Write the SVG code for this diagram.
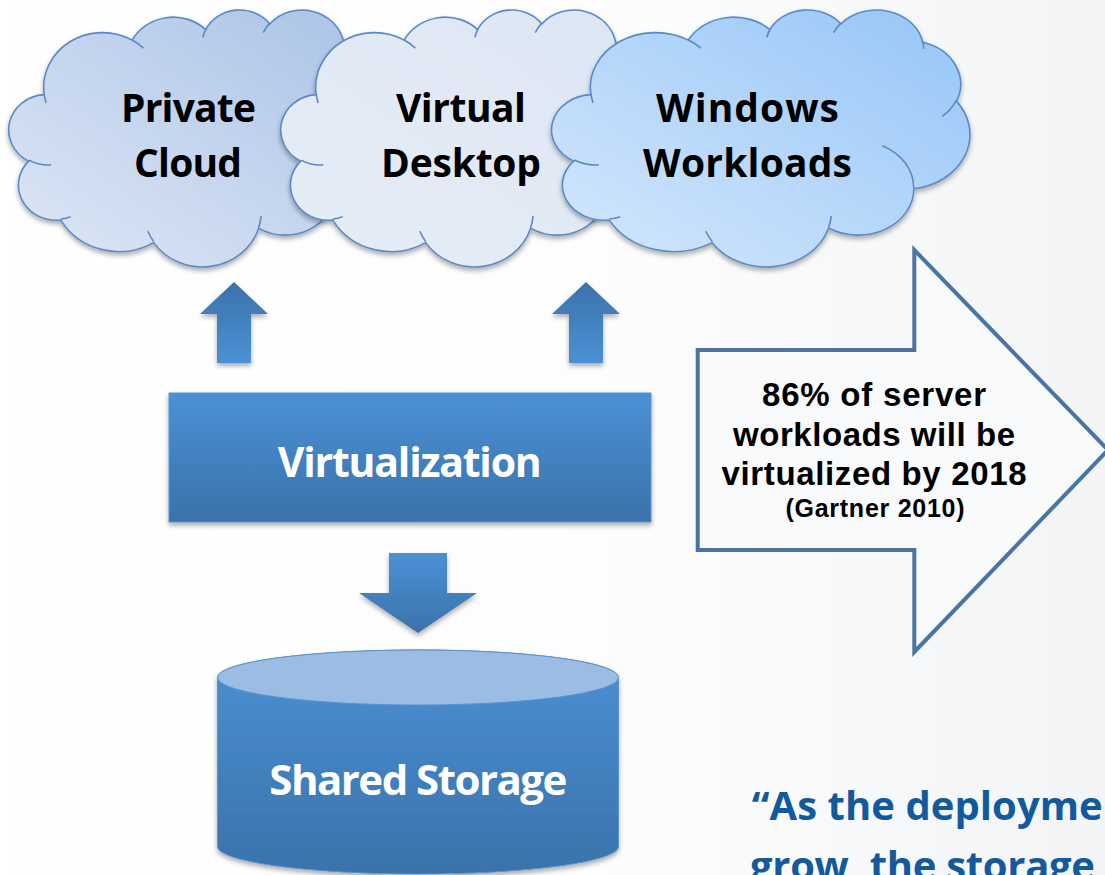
<svg xmlns="http://www.w3.org/2000/svg" xmlns:xlink="http://www.w3.org/1999/xlink" width="1105" height="875" viewBox="0 0 1105 875">
<defs>
<linearGradient id="bg" x1="0" y1="0" x2="1" y2="0">
<stop offset="0" stop-color="#ffffff"/><stop offset="0.55" stop-color="#fdfdfd"/><stop offset="1" stop-color="#f2f4f6"/>
</linearGradient>
<linearGradient id="c1" x1="0" y1="1" x2="1" y2="0">
<stop offset="0" stop-color="#dfe8f6"/><stop offset="1" stop-color="#a9c2e6"/>
</linearGradient>
<linearGradient id="c2" x1="0" y1="1" x2="1" y2="0">
<stop offset="0" stop-color="#e6edf7"/><stop offset="1" stop-color="#dce6f3"/>
</linearGradient>
<linearGradient id="c3" x1="0" y1="1" x2="1" y2="0">
<stop offset="0" stop-color="#d6e8fd"/><stop offset="1" stop-color="#95c5f7"/>
</linearGradient>
<linearGradient id="gDown" x1="0" y1="0" x2="0" y2="1">
<stop offset="0" stop-color="#4b91d5"/><stop offset="1" stop-color="#3a72aa"/>
</linearGradient>
<linearGradient id="gUp" x1="0" y1="0" x2="0" y2="1">
<stop offset="0" stop-color="#3a72aa"/><stop offset="1" stop-color="#4b91d5"/>
</linearGradient>
<filter id="sh" x="-10%" y="-10%" width="120%" height="130%">
<feDropShadow dx="0" dy="3" stdDeviation="2.5" flood-color="#000" flood-opacity="0.32"/>
</filter>
<path id="cloudOuter" vector-effect="non-scaling-stroke" d="M3900 14370 A6753 9190 0 0 1 14004 5200 A5333 7267 0 0 1 22453 3427 A4365 5945 0 0 1 29830 2478 A4857 6595 0 0 1 38315 5574 A5333 7273 0 0 1 41815 15458 A6775 9220 0 0 1 37401 30201 A5785 7867 0 0 1 28552 36811 A6752 9215 0 0 1 16476 39261 A7720 10543 0 0 1 5805 35467 A4360 5918 0 0 1 2110 25550 A4345 5945 0 0 1 3900 14370 Z"/>
<path id="cloudInner" vector-effect="non-scaling-stroke" fill="none" d="M4693 26177 A4345 5945 0 0 1 2158 25378 M6928 34899 A4360 5918 0 0 1 5822 35279 M16478 39090 A6752 9215 0 0 1 15811 37351 M28827 34751 A6752 9215 0 0 1 28561 36659 M34129 22954 A5785 7867 0 0 1 37377 30087 M41798 15354 A5333 7273 0 0 1 40351 18029 M38324 5426 A4857 6595 0 0 1 38400 6690 M29078 3952 A4857 6595 0 0 1 29820 2340 M22141 4720 A4365 5945 0 0 1 22501 3330 M14000 5192 A6753 9190 0 0 1 15303 6544 M4127 15789 A6753 9190 0 0 1 3900 14370"/>
</defs>
<style>
.cl{stroke:#5a8ac6;stroke-width:1.6}
.ci{stroke:#5a8ac6;stroke-width:1.6;fill:none}
.ct{font-family:"Open Sans","Noto Sans","DejaVu Sans",sans-serif;font-weight:700;font-size:39px;fill:#000;text-anchor:middle}
.wt{font-family:"Open Sans","Noto Sans","DejaVu Sans",sans-serif;font-weight:700;fill:#fff;text-anchor:middle}
.at{font-family:"Liberation Sans",Arial,sans-serif;font-weight:700;fill:#000;text-anchor:middle}
.qt{font-family:"Open Sans","Noto Sans","DejaVu Sans",sans-serif;font-weight:700;font-size:40px;fill:#135a9c}
.blk{stroke:#5b93cf;stroke-width:1}
</style>
<rect x="0" y="0" width="1105" height="875" fill="url(#bg)"/>

<g id="cloud-private">
<g filter="url(#sh)">
<use xlink:href="#cloudOuter" class="cl" fill="url(#c1)" transform="translate(10.3 9.19) scale(0.0087 0.005946)"/>
</g>
<use xlink:href="#cloudInner" class="ci" transform="translate(10.3 9.19) scale(0.0087 0.005946)"/>
<text class="ct" x="188.5" y="121.7" textLength="135">Private</text>
<text class="ct" x="188" y="176.7" textLength="108">Cloud</text>
</g>

<g id="cloud-virtual-desktop">
<g filter="url(#sh)">
<use xlink:href="#cloudOuter" class="cl" fill="url(#c2)" transform="translate(282.3 9.19) scale(0.0087 0.005946)"/>
</g>
<use xlink:href="#cloudInner" class="ci" transform="translate(282.3 9.19) scale(0.0087 0.005946)"/>
<text class="ct" x="461" y="121.7" textLength="130">Virtual</text>
<text class="ct" x="461" y="176.7" textLength="160">Desktop</text>
</g>

<g id="cloud-windows">
<g filter="url(#sh)">
<use xlink:href="#cloudOuter" class="cl" fill="url(#c3)" transform="translate(553.36 9.19) scale(0.00964 0.005946)"/>
</g>
<use xlink:href="#cloudInner" class="ci" transform="translate(553.36 9.19) scale(0.00964 0.005946)"/>
<text class="ct" x="747.5" y="121.7" textLength="183">Windows</text>
<text class="ct" x="747.5" y="176.7" textLength="209">Workloads</text>
</g>

<g id="virtualization">
<rect x="169" y="393" width="482" height="129" fill="url(#gDown)" class="blk" filter="url(#sh)"/>
<text class="wt" x="409.8" y="476.7" font-size="41" textLength="264">Virtualization</text>
</g>

<g id="shared-storage">
<path d="M217.5 677.5 A200.5 27.5 0 0 1 618.5 677.5 L618.5 846.5 A200.5 27.5 0 0 1 217.5 846.5 Z" fill="url(#gDown)" class="blk" filter="url(#sh)"/>
<ellipse cx="418" cy="677.5" rx="200.5" ry="27.5" fill="#9bbde3" class="blk"/>
<text class="wt" x="418.3" y="795" font-size="42" textLength="298">Shared Storage</text>
</g>

<g id="gartner-arrow">
<polygon points="697.7,350 914.3,350 914.3,250 1108,450 914.3,652 914.3,550 697.7,550" fill="#f9fafb" stroke="#4a74a4" stroke-width="4"/>
<text class="at" x="874" y="406" font-size="33" textLength="224">86% of server</text>
<text class="at" x="874" y="446" font-size="33" textLength="282">workloads will be</text>
<text class="at" x="874" y="485" font-size="33" textLength="305">virtualized by 2018</text>
<text class="at" x="875" y="516.5" font-size="25" textLength="179">(Gartner 2010)</text>
</g>

<g id="quote">
<text class="qt" x="751.7" y="820" textLength="351">“As the deployme</text>
<text class="qt" x="750" y="880" textLength="345">grow, the storage</text>
</g>

<g id="connectors">
<path d="M234 282 L268 314 L251 314 L251 363 L217 363 L217 314 L200 314 Z" fill="url(#gUp)" filter="url(#sh)"/>
<path d="M586 282 L620 314 L603 314 L603 363 L569 363 L569 314 L552 314 Z" fill="url(#gUp)" filter="url(#sh)"/>
<path d="M389 553 L447 553 L447 593 L477 593 L418 633 L359 593 L389 593 Z" fill="url(#gDown)" filter="url(#sh)"/>
</g>
</svg>
